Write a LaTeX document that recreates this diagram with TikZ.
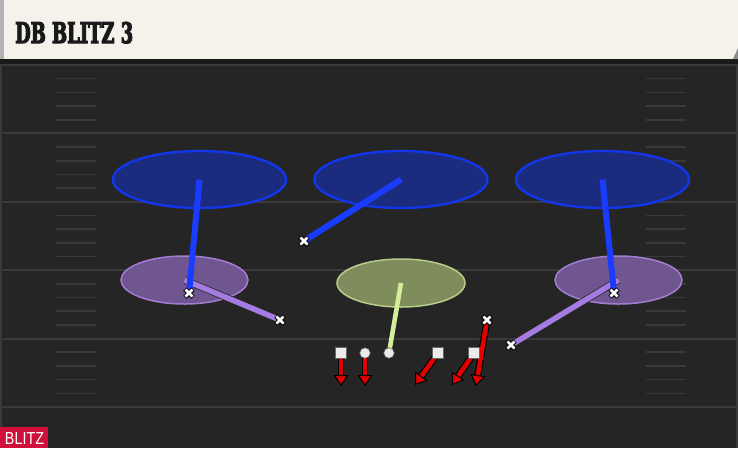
\documentclass[tikz,border=0pt]{standalone}
\usepackage{fontspec}
\setmainfont{Liberation Sans}
\newfontfamily\titlefont[BoldFeatures={FakeBold=4.5}]{DejaVu Serif Condensed}
\usetikzlibrary{shapes.geometric,arrows.meta}
\pgfdeclarelayer{bg}
\pgfdeclarelayer{lines}
\pgfsetlayers{bg,lines,main}
\definecolor{field}{HTML}{252525}
\definecolor{yardc}{HTML}{3A3A3A}
\definecolor{hashc}{HTML}{393939}
\definecolor{cream}{HTML}{F4F2EB}
\definecolor{bluefill}{HTML}{1B2B7D}
\definecolor{bluedraw}{HTML}{1236E8}
\definecolor{blueline}{HTML}{1A3CFF}
\definecolor{purpfill}{HTML}{6F5690}
\definecolor{purpdraw}{HTML}{A27DD2}
\definecolor{purpline}{HTML}{A47BE0}
\definecolor{greenfill}{HTML}{7F8D5C}
\definecolor{greendraw}{HTML}{B8CD8A}
\definecolor{greenline}{HTML}{D4EE9A}
\definecolor{redc}{HTML}{E00000}
\definecolor{blitzred}{HTML}{D0103A}
\tikzset{
  yard/.style={draw=yardc, line width=2pt},
  hash/.style={draw=hashc, line width=1.6pt},
  bluezone/.style={ellipse, fill=bluefill, draw=bluedraw, line width=2.4pt, minimum width=173pt, minimum height=57pt, inner sep=0pt},
  purpzone/.style={ellipse, fill=purpfill, draw=purpdraw, line width=1.5pt, minimum width=127pt, minimum height=48pt, inner sep=0pt},
  greenzone/.style={ellipse, fill=greenfill, draw=greendraw, line width=1.5pt, minimum width=128pt, minimum height=48pt, inner sep=0pt},
  bluepath/.style={draw=blueline, line width=6pt},
  purppath/.style={draw=purpline, line width=5.5pt, preaction={draw=black!85, line width=7pt}},
  greenpath/.style={draw=greenline, line width=4.6pt},
  redunder/.style={draw=black, line width=6.8pt, shorten >=9pt},
  redarrow/.style={draw=redc, line width=4.6pt, -{Triangle[length=11pt,width=15pt,line width=1pt,color=black,fill=redc]}},
  sqplayer/.style={rectangle, fill=white!92!black, draw=black!60, line width=0.6pt, minimum size=10.5pt, inner sep=0pt},
  cirplayer/.style={circle, fill=white!92!black, draw=black!60, line width=0.6pt, minimum size=10.5pt, inner sep=0pt},
  xm/.pic={\draw[black,line width=4.6pt] (-4,-4)--(4,4) (-4,4)--(4,-4);
           \draw[white,line width=2.8pt] (-3.5,-3.5)--(3.5,3.5) (-3.5,3.5)--(3.5,-3.5);}
}
\begin{document}
\begin{tikzpicture}[x=1pt,y=-1pt]
\useasboundingbox (0,0) rectangle (738,448);
\begin{pgfonlayer}{bg}
\fill[field] (0,0) rectangle (738,448);
% edges
\fill[black!30!field] (0,59) rectangle (738,64);
\fill[yardc] (0,64) rectangle (2,448);
\fill[yardc] (736,64) rectangle (738,448);
% yard lines and hash marks
\foreach \i in {0,...,5} \draw[yard] (0,65+68.4*\i) -- (738,65+68.4*\i);
\foreach \i in {0,...,4} \foreach \j in {1,...,4} {
  \draw[hash] (56,65+68.4*\i+13.68*\j) -- (96,65+68.4*\i+13.68*\j);
  \draw[hash] (646,65+68.4*\i+13.68*\j) -- (686,65+68.4*\i+13.68*\j);
}
% header
\fill[cream] (0,0) rectangle (738,59);
\fill[black!30] (0,0) rectangle (4,59);
\fill[black!45] (733,59) -- (738,48) -- (738,59) -- cycle;
\node[anchor=base west, inner sep=0pt, text=black!90] (title) at (15,43) {\resizebox{118pt}{21pt}{\titlefont\bfseries DB BLITZ 3}};
% blitz tag
\node[fill=blitzred, anchor=south west, minimum width=48pt, minimum height=21pt, inner sep=0pt] (tag) at (0,448) {};
\node[anchor=base, inner sep=0pt, text=white] (tagtext) at (24.5,444) {\resizebox{39pt}{12pt}{BLITZ}};
% zones
\node[bluezone] (z1) at (199.5,179.5) {};
\node[bluezone] (z2) at (401,179.5) {};
\node[bluezone] (z3) at (602.5,179.5) {};
\node[purpzone] (p1) at (184.5,280) {};
\node[greenzone] (g1) at (401,283) {};
\node[purpzone] (p3) at (618.5,280) {};
\end{pgfonlayer}
% defenders
\coordinate (d1) at (189,293);
\coordinate (d2) at (304,241);
\coordinate (d3) at (614,293);
\coordinate (d4) at (280,320);
\coordinate (d5) at (511,345);
\coordinate (d6) at (487,320);
% offense
\node[sqplayer] (o1) at (341,353) {};
\node[cirplayer] (o2) at (365,353) {};
\node[cirplayer] (o3) at (389,353) {};
\node[sqplayer] (o4) at (438,353) {};
\node[sqplayer] (o5) at (474,353) {};
\coordinate (t1) at (341,386);
\coordinate (t2) at (365,386);
\coordinate (t4) at (415,385);
\coordinate (t5) at (452,385);
\coordinate (t6) at (476,386);
\begin{pgfonlayer}{lines}
% zone drops
\draw[purppath] (p1.center) -- (d4);
\draw[purppath] (p3.center) -- (d5);
\draw[bluepath] (z1.center) -- (d1);
\draw[bluepath] (z2.center) -- (d2);
\draw[bluepath] (z3.center) -- (d3);
\draw[greenpath] (g1.center) -- (o3.center);
% red arrows
\foreach \a/\b in {o1/t1,o2/t2,o4/t4,o5/t5,d6/t6} {
  \draw[redunder] (\a.center) -- (\b);
  \draw[redarrow] (\a.center) -- (\b);
}
\end{pgfonlayer}
\foreach \d in {d1,d2,d3,d4,d5,d6} \pic at (\d) {xm};
\end{tikzpicture}
\end{document}
